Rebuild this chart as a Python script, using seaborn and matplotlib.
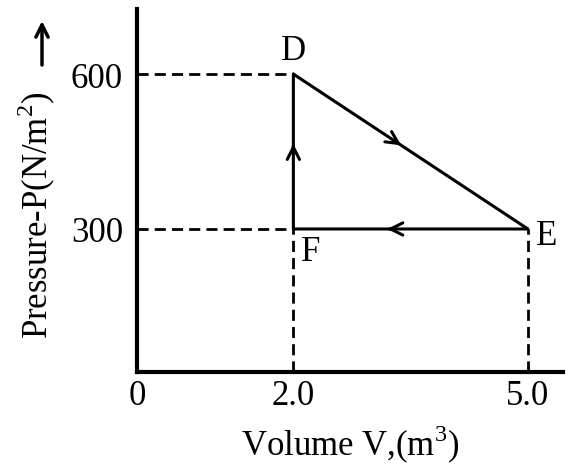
import matplotlib
matplotlib.use("Agg")
import matplotlib.pyplot as plt
import seaborn as sns
import pandas as pd

# Cycle D -> E -> F -> D
cycle_labels = ["D", "E", "F", "D"]
cycle_volume = [2.0, 5.0, 2.0, 2.0]
cycle_pressure = [600, 300, 300, 600]

x_ticks = [0, 2.0, 5.0]
x_tick_labels = ["0", "2.0", "5.0"]
y_ticks = [300, 600]
y_tick_labels = ["300", "600"]

sns.set_theme(style="white")
plt.rcParams["font.family"] = ["Liberation Serif", "DejaVu Serif"]
plt.rcParams["mathtext.fontset"] = "custom"
plt.rcParams["mathtext.rm"] = "Liberation Serif"
plt.rcParams["text.color"] = "black"
plt.rcParams["xtick.color"] = "black"
plt.rcParams["ytick.color"] = "black"
plt.rcParams["axes.labelcolor"] = "black"

fig = plt.figure(figsize=(5.74, 4.77), dpi=100)
ax = fig.add_axes([0.2387, 0.218, 0.981 - 0.2387, 0.979 - 0.218])

xmin, xmax = 0.0, 5.45
ymin, ymax = 23.0, 726.0

df = pd.DataFrame({"V": cycle_volume, "P": cycle_pressure})
sns.lineplot(data=df, x="V", y="P", sort=False, estimator=None,
             color="black", linewidth=2.2, ax=ax)

# dashed guide lines
dash = dict(color="black", linewidth=2.0, linestyle=(0, (4, 2.2)))
ax.plot([xmin, cycle_volume[0]], [cycle_pressure[0], cycle_pressure[0]], **dash)
ax.plot([xmin, cycle_volume[2]], [cycle_pressure[2], cycle_pressure[2]], **dash)
ax.plot([cycle_volume[2], cycle_volume[2]], [ymin, cycle_pressure[2]], **dash)
ax.plot([cycle_volume[1], cycle_volume[1]], [ymin, cycle_pressure[1]], **dash)

# direction arrows (open chevrons)
def chevron(p0, p1, frac):
    x0, y0 = p0
    x1, y1 = p1
    xm = x0 + (x1 - x0) * frac
    ym = y0 + (y1 - y0) * frac
    xb = x0 + (x1 - x0) * (frac - 0.02)
    yb = y0 + (y1 - y0) * (frac - 0.02)
    ax.annotate("", xy=(xm, ym), xytext=(xb, yb),
                arrowprops=dict(arrowstyle="->", color="black", lw=2.2,
                                mutation_scale=22, shrinkA=0, shrinkB=0))

pts = list(zip(cycle_volume, cycle_pressure))
chevron(pts[0], pts[1], 0.46)
chevron(pts[1], pts[2], 0.60)
chevron(pts[2], pts[3], 0.55)

# point labels
fs = 25
ax.text(cycle_volume[0], cycle_pressure[0] + 14, cycle_labels[0], fontsize=fs,
        ha="center", va="bottom")
ax.text(cycle_volume[1] + 0.1, cycle_pressure[1] - 12, cycle_labels[1], fontsize=fs,
        ha="left", va="center")
ax.text(cycle_volume[2] + 0.1, cycle_pressure[2] - 12, cycle_labels[2], fontsize=fs,
        ha="left", va="top")

ax.set_xlim(xmin, xmax)
ax.set_ylim(ymin, ymax)
ax.set_xticks(x_ticks)
ax.set_xticklabels(x_tick_labels, fontsize=fs)
ax.set_yticks(y_ticks)
ax.set_yticklabels(y_tick_labels, fontsize=fs)
ax.tick_params(axis="both", length=0)
ax.tick_params(axis="x", pad=5)
ax.tick_params(axis="y", pad=10)

for side in ["top", "right"]:
    ax.spines[side].set_visible(False)
for side in ["left", "bottom"]:
    ax.spines[side].set_color("black")
    ax.spines[side].set_linewidth(3.0)

ax.set_xlabel("Volume V,(m$^3$)", fontsize=fs, labelpad=4)
ax.xaxis.set_label_coords(0.50, -0.14)
ax.set_ylabel("Pressure-P(N/m$^2$)", fontsize=fs)
ax.yaxis.set_label_coords(-0.185, 0.435)

# arrow next to y label
ax.annotate("", xy=(42 / 574, 1 - 22 / 477), xytext=(42 / 574, 1 - 66 / 477),
            xycoords="figure fraction", textcoords="figure fraction",
            arrowprops=dict(arrowstyle="->", color="black", lw=2.5,
                            mutation_scale=22, shrinkA=0, shrinkB=0))

ax.set_facecolor("white")
fig.patch.set_facecolor("white")
fig.savefig("out.png", dpi=100)
